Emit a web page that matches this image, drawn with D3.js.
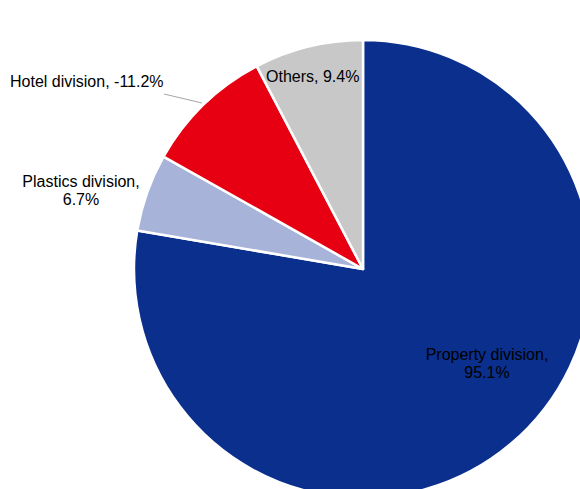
<!DOCTYPE html>
<html><head><meta charset="utf-8">
<script src="https://cdn.jsdelivr.net/npm/d3@7"></script>
<style>html,body{margin:0;padding:0;background:#fff;overflow:hidden}</style>
</head><body>
<svg id="chart" width="580" height="489"></svg>
<script>
const categories = ["Property division", "Plastics division", "Hotel division", "Others"];
const values = [95.1, 6.7, -11.2, 9.4];
const colors = ["#0a2f8c", "#a7b3d9", "#e60012", "#c8c8c8"];

// label layout (anchor points in px, text lines)
const labelLayout = [
  {x: 487, y: 360, anchor: "middle", twoLine: true},
  {x: 81, y: 187, anchor: "middle", twoLine: true},
  {x: 10, y: 87, anchor: "start", twoLine: false, leader: [[164, 94], [202, 103]]},
  {x: 266, y: 82, anchor: "start", twoLine: false}
];

const svg = d3.select("#chart");
const cx = 363, cy = 269, r = 229;
const g = svg.append("g").attr("transform", `translate(${cx},${cy})`);

const data = categories.map((c, i) => ({name: c, value: values[i], color: colors[i]}));
const pie = d3.pie().sort(null).value(d => Math.abs(d.value)).startAngle(0).endAngle(2 * Math.PI);
const arc = d3.arc().innerRadius(0).outerRadius(r);

g.selectAll("path").data(pie(data)).join("path")
  .attr("d", arc)
  .attr("fill", d => d.data.color)
  .attr("stroke", "#fff")
  .attr("stroke-width", 2.5)
  .attr("stroke-linejoin", "round");

const fmt = v => v.toFixed(1) + "%";
const font = "Liberation Sans, Arial, sans-serif";
data.forEach((d, i) => {
  const L = labelLayout[i];
  if (L.leader) {
    svg.append("path").attr("d", d3.line()(L.leader)).attr("stroke", "#a6a6a6").attr("stroke-width", 1).attr("fill", "none");
  }
  const t = svg.append("text").attr("x", L.x).attr("y", L.y)
    .attr("text-anchor", L.anchor).attr("font-family", font).attr("font-size", 16)
    .attr("fill", "#000");
  if (L.twoLine) {
    t.append("tspan").attr("x", L.x).attr("dy", 0).text(d.name + ",");
    t.append("tspan").attr("x", L.x).attr("dy", 18).text(fmt(d.value));
  } else {
    t.text(d.name + ", " + fmt(d.value));
  }
});
</script>
</body></html>
